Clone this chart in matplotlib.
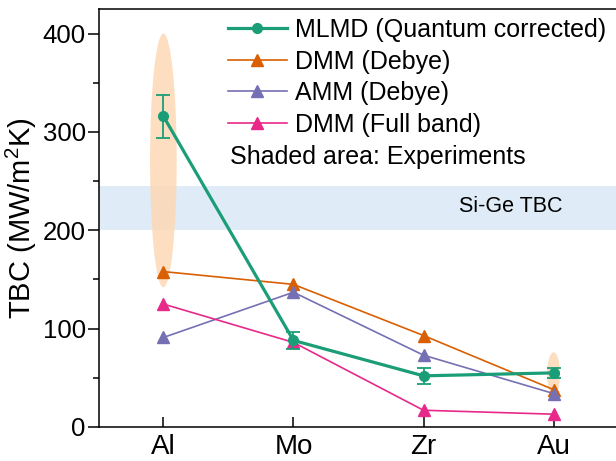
import matplotlib
matplotlib.use("Agg")
from matplotlib import pyplot as plt
from matplotlib.patches import Ellipse

plt.rcParams["font.family"] = ["Liberation Sans", "DejaVu Sans"]
plt.rcParams["mathtext.fontset"] = "custom"
plt.rcParams["mathtext.rm"] = "Liberation Sans"

# data
metals = ["Al", "Mo", "Zr", "Au"]
mlmd = [316, 88, 52, 55]
mlmd_err = [22, 9, 8, 5]
dmm_debye = [158, 145, 93, 38]
amm_debye = [91, 137, 73, 34]
dmm_full = [125, 86, 17, 13]

# experiment ranges (index, low, high)
exp_idx = [0, 3]
exp_low = [142, 32]
exp_high = [400, 76]
exp_width = [0.205, 0.1]

sige_band = [200, 245]

x = list(range(len(metals)))

fig = plt.figure(figsize=(6.16, 4.61), dpi=100)
ax = fig.add_axes([0.1607, 0.0738, 0.8393, 0.9067])

# shaded experiment areas
for i, lo, hi, w in zip(exp_idx, exp_low, exp_high, exp_width):
    ax.add_patch(Ellipse((i, (lo + hi) / 2), w, hi - lo,
                         facecolor="#fdd9b5", edgecolor="none", alpha=0.85, zorder=0.5))

# Si-Ge band
ax.axhspan(sige_band[0], sige_band[1], color="#dfebf6", zorder=0.2, lw=0)
ax.text(2.27, 224, "Si-Ge TBC", fontsize=15.5, va="center", ha="left")

ax.plot(x, dmm_debye, "-^", color="#d95f02", lw=1.2, ms=8, label="DMM (Debye)", zorder=3)
ax.plot(x, amm_debye, "-^", color="#7570b3", lw=1.2, ms=8, label="AMM (Debye)", zorder=3)
ax.plot(x, dmm_full, "-^", color="#e7298a", lw=1.2, ms=8, label="DMM (Full band)", zorder=3)
ax.errorbar(x, mlmd, yerr=mlmd_err, fmt="none", ecolor="#1b9e77",
            capsize=5, elinewidth=1.3, capthick=1.3, zorder=4)
ax.plot(x, mlmd, "-o", color="#1b9e77", lw=2.3, ms=7,
        label="MLMD (Quantum corrected)", zorder=4)

handles, labels = ax.get_legend_handles_labels()
order = [3, 0, 1, 2]
ax.legend([handles[i] for i in order], [labels[i] for i in order],
          loc="upper left", bbox_to_anchor=(0.2495, 0.978), frameon=False,
          fontsize=18, handlelength=2.36, handletextpad=0.32, labelspacing=0.3,
          borderaxespad=0, borderpad=0)
ax.text(0.514, 274, "Shaded area: Experiments", fontsize=18, va="center", ha="left")

ax.set_xlim(-0.495, 3.48)
ax.set_ylim(0, 425)
ax.set_xticks(x)
ax.set_xticklabels(metals)
ax.set_yticks([0, 100, 200, 300, 400])
ax.set_yticks([50, 150, 250, 350], minor=True)
ax.tick_params(axis="x", direction="in", length=7, width=1.1, labelsize=20, pad=5)
ax.tick_params(axis="y", which="major", direction="out", length=8, width=1.1,
               labelsize=18.5, pad=1.5)
ax.tick_params(axis="y", which="minor", direction="out", length=4, width=1.1)
for s in ax.spines.values():
    s.set_linewidth(1.1)
ax.spines["right"].set_visible(False)
ax.set_ylabel("TBC (MW/m$^2$K)", fontsize=21, labelpad=3)

fig.savefig("out.png", dpi=100)
